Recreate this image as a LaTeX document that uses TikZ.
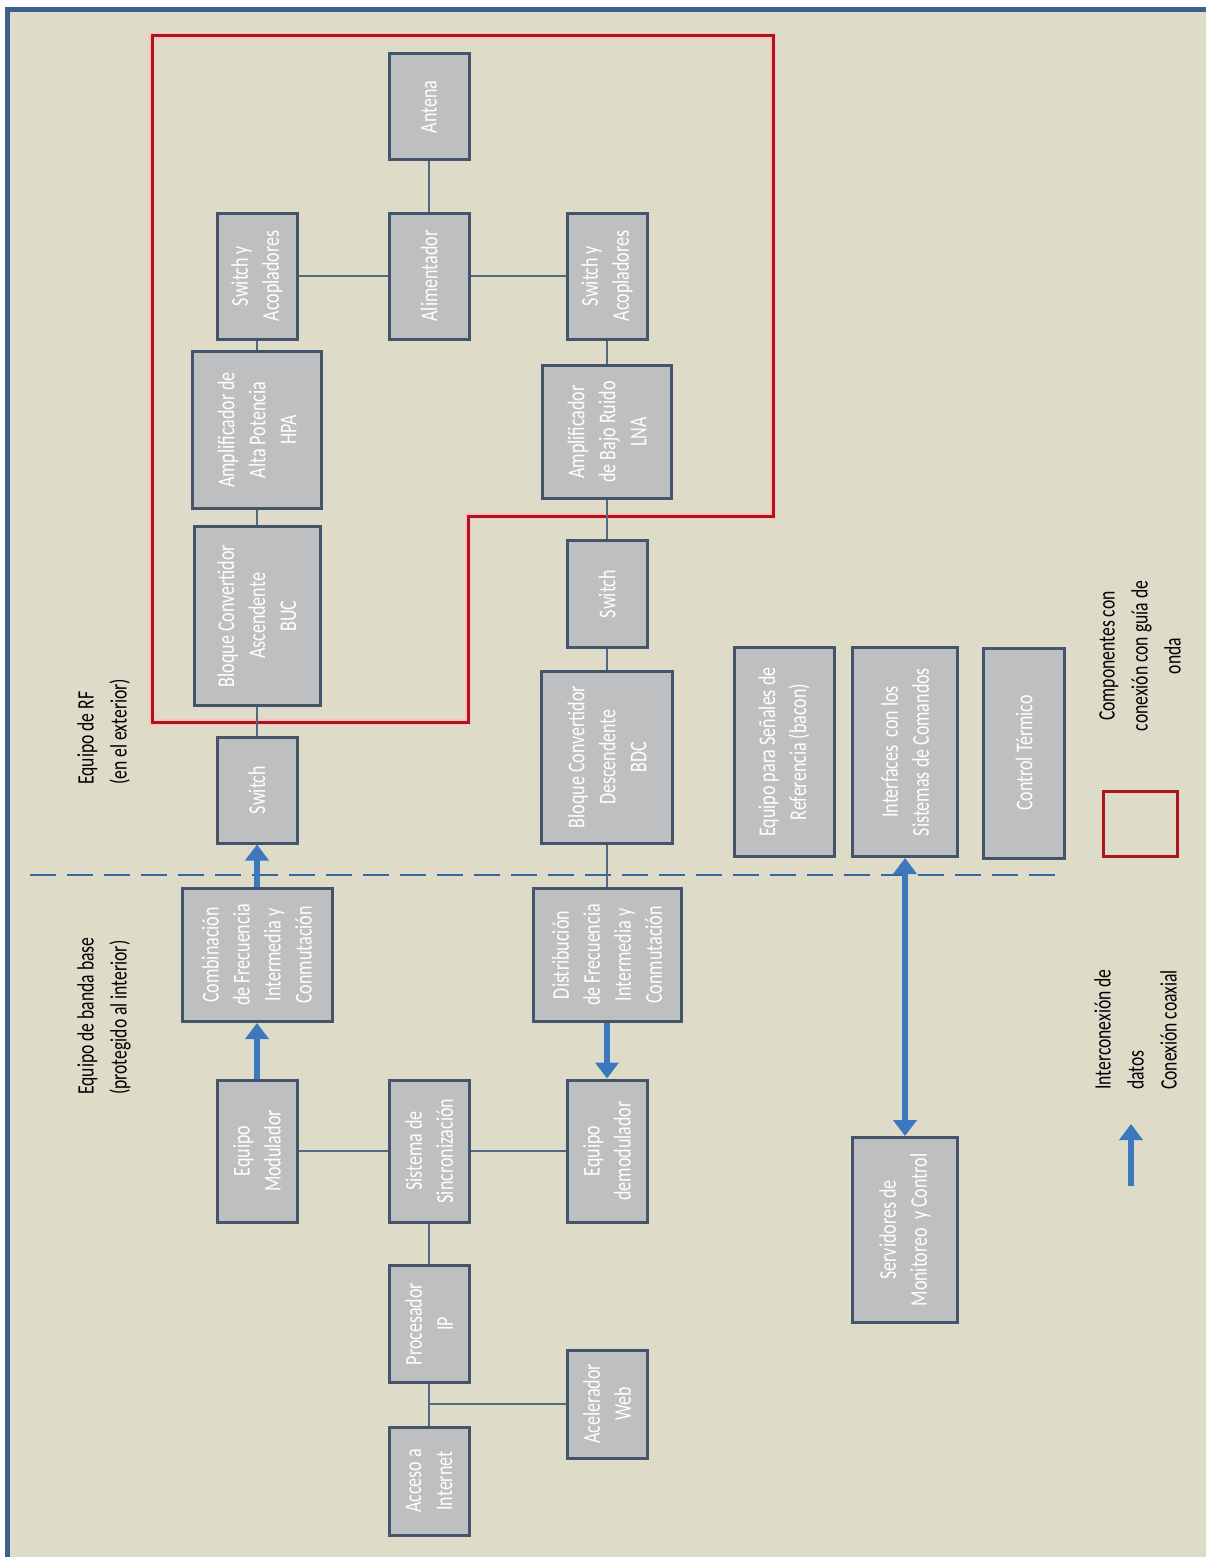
\documentclass[tikz,border=0pt]{standalone}
\usepackage{fontspec}
\setmainfont{Carlito}[FakeStretch=0.75]
\usepackage{tikz}
\usetikzlibrary{arrows.meta}
\usepackage{xcolor}
\definecolor{paper}{RGB}{222,220,201}
\definecolor{frameblue}{RGB}{62,96,140}
\definecolor{boxgray}{RGB}{190,191,193}
\definecolor{boxedge}{RGB}{68,84,106}
\definecolor{linkc}{RGB}{84,104,132}
\definecolor{flowc}{RGB}{61,120,190}
\definecolor{wgred}{RGB}{170,22,28}

\begin{document}
\begin{tikzpicture}[
    x=1pt, y=1pt,
    blk/.style 2 args={draw=boxedge, line width=3pt, fill=boxgray, rotate=90, inner sep=0pt, minimum width=#2pt, minimum height=#1pt, align=center, text=white, font=\fontsize{24}{31}\selectfont},
    lbl/.style={rotate=90, inner sep=0pt, font=\fontsize{23.5}{33}\selectfont},
    link/.style={draw=linkc, line width=1.3pt},
    flow/.style={draw=flowc, line width=6pt, -{Triangle[width=23pt,length=16pt]}},
    flowboth/.style={draw=flowc, line width=6pt, {Triangle[width=23pt,length=16pt]}-{Triangle[width=23pt,length=16pt]}},
    wg/.style={draw=wgred, line width=3pt, line join=miter},
    wgglow/.style={draw=red!25, line width=6pt},
    divider/.style={draw=flowc!85!black, line width=2.2pt, dash pattern=on 26pt off 11pt},
]
    % Background and frame
    \useasboundingbox (0,0) rectangle (1206,-1557);
    \clip (0,0) rectangle (1206,-1557);
    \fill[white] (0,0) rectangle (1206,-1557);
    \draw[line width=5pt, draw=frameblue, fill=paper] (7.5,-9.5) rectangle (1230,-1580);

    % Waveguide zone
    \draw[wgglow] (152,-36) -- (773,-36) -- (773,-516) -- (468,-516) -- (468,-722) -- (152,-722) -- cycle;
    \draw[wg] (152,-36) -- (773,-36) -- (773,-516) -- (468,-516) -- (468,-722) -- (152,-722) -- cycle;

    % Indoor / outdoor divider
    \coordinate (dl) at (30,-875);
    \coordinate (dr) at (1060,-875);
    \draw[divider] (dl) -- (dr);

    % Zone labels
    \node[lbl, align=left, anchor=north west] (rflbl) at (77,-785) {Equipo de RF\\(en el exterior)};
    \node[lbl, align=left, anchor=north west] (bblbl) at (77,-1095) {Equipo de banda base\\(protegido al interior)};

    % Antenna side
    \node[blk={80}{106}] (ant) at (429,-107) {Antena};
    \node[blk={80}{126}] (swa) at (257,-276) {Switch y\\Acopladores};
    \node[blk={80}{126}] (ali) at (429,-276) {Alimentador};
    \node[blk={80}{126}] (swb) at (607,-276) {Switch y\\Acopladores};

    % Uplink chain
    \node[blk={129}{157}] (hpa) at (257,-430) {Amplificador de\\Alta Potencia\\HPA};
    \node[blk={126}{179}] (buc) at (257,-616) {Bloque Convertidor\\Ascendente\\BUC};
    \node[blk={80}{106}] (swu) at (257,-790) {Switch};
    \node[blk={150}{133}] (cmb) at (257,-955) {Combinaci\'on\\de Frecuencia\\Intermedia y\\Conmutaci\'on};
    \node[blk={80}{142}] (mod) at (257,-1151) {Equipo\\Modulador};

    % Downlink chain
    \node[blk={129}{133}] (lna) at (607,-432) {Amplificador\\de Bajo Ruido\\LNA};
    \node[blk={80}{107}] (swd) at (607,-594) {Switch};
    \node[blk={131}{172}] (bdc) at (607,-757) {Bloque Convertidor\\Descendente\\BDC};
    \node[blk={148}{133}] (dst) at (607,-955) {Distribuci\'on\\de Frecuencia\\Intermedia y\\Conmutaci\'on};
    \node[blk={80}{142}] (dem) at (607,-1151) {Equipo\\demodulador};

    % Baseband
    \node[blk={80}{142}] (sin) at (429,-1151) {Sistema de\\Sincronizaci\'on};
    \node[blk={80}{117}] (pip) at (429,-1324) {Procesador\\IP};
    \node[blk={80}{108}] (acc) at (429,-1481) {Acceso a\\Internet};
    \node[blk={80}{108}] (acw) at (607,-1404) {Acelerador\\Web};

    % Support equipment
    \node[blk={100}{209}] (ref) at (784,-752) {Equipo para Se\~nales de\\Referencia (bacon)};
    \node[blk={105}{209}] (ifc) at (905,-752) {Interfaces~ con los\\Sistemas de Comandos};
    \node[blk={81}{210}] (ter) at (1024,-753) {Control T\'ermico};
    \node[blk={105}{185}] (srv) at (905,-1230) {Servidores de\\Monitoreo~ y Control};

    % Thin links
    \draw[link] (ant) -- (ali);
    \draw[link] (swa) -- (ali);
    \draw[link] (ali) -- (swb);
    \draw[link] (swa) -- (hpa);
    \draw[link] (hpa) -- (buc);
    \draw[link] (buc) -- (swu);
    \draw[link] (swb) -- (lna);
    \draw[link] (lna) -- (swd);
    \draw[link] (swd) -- (bdc);
    \draw[link] (bdc) -- (dst);
    \draw[link] (mod) -- (sin);
    \draw[link] (sin) -- (dem);
    \draw[link] (sin) -- (pip);
    \draw[link] (pip) -- (acc);
    \coordinate (br) at (429,-1404);
    \draw[link] (br) -- (acw);

    % Data flow
    \draw[flow] (mod) -- (cmb);
    \draw[flow] (cmb) -- (swu);
    \draw[flow] (dst) -- (dem);
    \draw[flowboth] (ifc) -- (srv);

    % Legend
    \node[lbl, align=center] (wglbl) at (1140,-656) {Componentes con\\conexi\'on con gu\'ia de\\onda};
    \node[draw=wgred, line width=3pt, minimum width=74pt, minimum height=65pt, inner sep=0pt] (wgkey) at (1140,-824) {};
    \node[lbl, align=left, anchor=north west] (keylbl) at (1094,-1090) {Interconexi\'on de\\datos\\Conexi\'on coaxial};
    \coordinate (ka) at (1131,-1186);
    \coordinate (kb) at (1131,-1124);
    \draw[flow] (ka) -- (kb);
\end{tikzpicture}
\end{document}
